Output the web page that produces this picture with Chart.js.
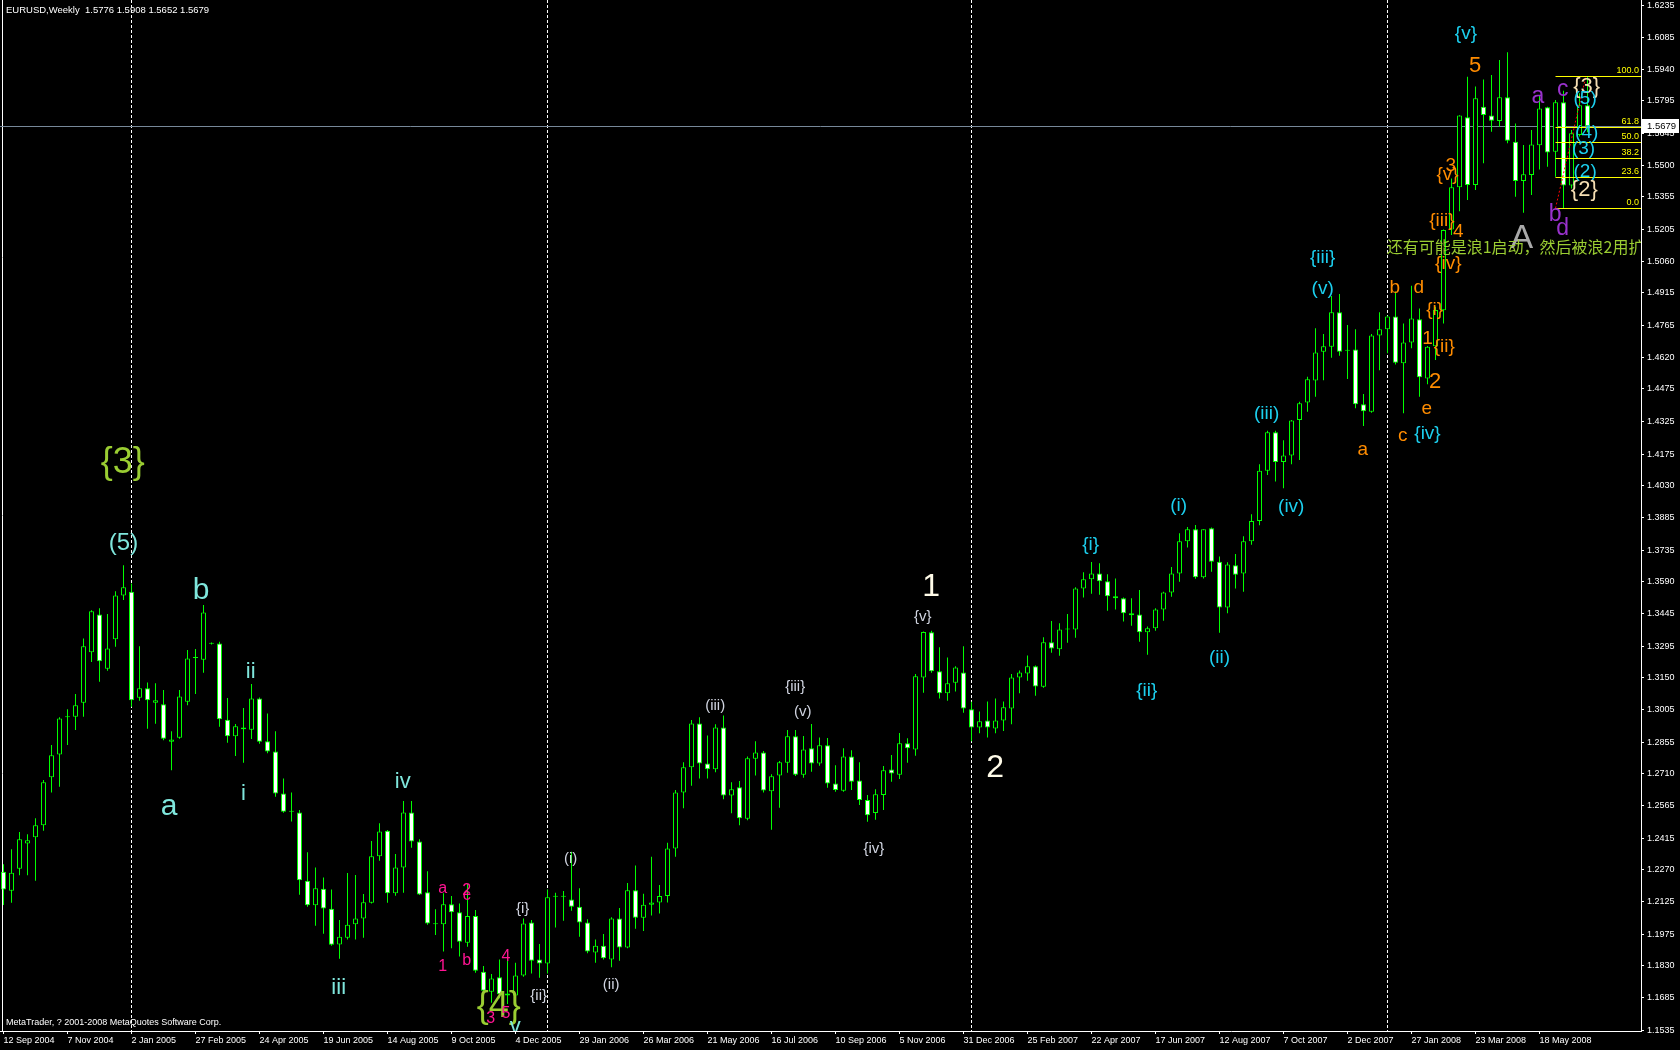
<!DOCTYPE html>
<html>
<head>
<meta charset="utf-8">
<title>EURUSD,Weekly</title>
<script src="https://cdn.jsdelivr.net/npm/chart.js@4.4.1/dist/chart.umd.min.js"></script>
<style>
  html, body { margin: 0; padding: 0; background: #000; }
  #wrap { width: 1680px; height: 1050px; }
</style>
</head>
<body>
<div id="wrap"><canvas id="eurusdChart" width="1680" height="1050"></canvas></div>
<script>
// one label every 8 weeks, starting at week 0
const dateTicks = ['12 Sep 2004', '7 Nov 2004', '2 Jan 2005', '27 Feb 2005', '24 Apr 2005', '19 Jun 2005',
  '14 Aug 2005', '9 Oct 2005', '4 Dec 2005', '29 Jan 2006', '26 Mar 2006', '21 May 2006', '16 Jul 2006',
  '10 Sep 2006', '5 Nov 2006', '31 Dec 2006', '25 Feb 2007', '22 Apr 2007', '17 Jun 2007', '12 Aug 2007',
  '7 Oct 2007', '2 Dec 2007', '27 Jan 2008', '23 Mar 2008', '18 May 2008'];

const opens = [
  1.2261, 1.2174, 1.2275, 1.2391, 1.2419, 1.2474, 1.2694, 1.2799, 1.2970, 1.2972,
  1.3036, 1.3267, 1.3441, 1.3192, 1.3327, 1.3528, 1.3545, 1.3059, 1.3102, 1.3036,
  1.3029, 1.2857, 1.2876, 1.3041, 1.3243, 1.3233, 1.3308, 1.3308, 1.2958, 1.2882,
  1.2923, 1.2912, 1.3056, 1.2859, 1.2813, 1.2620, 1.2536, 1.2533, 1.2220, 1.2107,
  1.2183, 1.2092, 1.1928, 1.1959, 1.2020, 1.2047, 1.2119, 1.2332, 1.2449, 1.2162,
  1.2281, 1.2533, 1.2400, 1.2167, 1.2021, 1.2020, 1.2112, 1.2075, 1.1936, 1.2058,
  1.1803, 1.1711, 1.1777, 1.1703, 1.1694, 1.1785, 1.2029, 1.1859, 1.1841, 1.2147,
  1.2147, 1.2134, 1.2101, 1.2029, 1.1891, 1.1922, 1.1859, 1.2047, 1.1914, 1.2176,
  1.2050, 1.2110, 1.2120, 1.2150, 1.2368, 1.2625, 1.2740, 1.2941, 1.2758, 1.2731,
  1.2923, 1.2611, 1.2648, 1.2504, 1.2779, 1.2808, 1.2630, 1.2703, 1.2761, 1.2882,
  1.2706, 1.2827, 1.2758, 1.2841, 1.2666, 1.2633, 1.2790, 1.2680, 1.2590, 1.2530,
  1.2613, 1.2730, 1.2706, 1.2850, 1.2822, 1.3152, 1.3359, 1.3180, 1.3079, 1.3128,
  1.3175, 1.3006, 1.2923, 1.2955, 1.2918, 1.2955, 1.3010, 1.3152, 1.3170, 1.3203,
  1.3109, 1.3313, 1.3281, 1.3372, 1.3372, 1.3560, 1.3602, 1.3629, 1.3593, 1.3524,
  1.3515, 1.3446, 1.3441, 1.3359, 1.3377, 1.3464, 1.3542, 1.3629, 1.3776, 1.3831,
  1.3611, 1.3836, 1.3683, 1.3473, 1.3666, 1.3629, 1.3776, 1.3869, 1.4100, 1.4276,
  1.4140, 1.4170, 1.4332, 1.4413, 1.4513, 1.4645, 1.4668, 1.4826, 1.4650, 1.4656,
  1.4404, 1.4370, 1.4720, 1.4748, 1.4807, 1.4592, 1.4688, 1.4794, 1.4523, 1.4670,
  1.4835, 1.5206, 1.5399, 1.5720, 1.5410, 1.5769, 1.5729, 1.5703, 1.5812, 1.5608,
  1.5428, 1.5456, 1.5592, 1.5766, 1.5562, 1.5789, 1.5407, 1.5639, 1.5776
];
const highs = [
  1.2296, 1.2364, 1.2443, 1.2433, 1.2507, 1.2682, 1.2842, 1.2969, 1.3006, 1.3076,
  1.3331, 1.3460, 1.3469, 1.3443, 1.3547, 1.3666, 1.3583, 1.3295, 1.3129, 1.3125,
  1.3094, 1.2905, 1.3094, 1.3278, 1.3282, 1.3484, 1.3312, 1.3316, 1.3058, 1.2938,
  1.3012, 1.3122, 1.3060, 1.2987, 1.2905, 1.2689, 1.2625, 1.2544, 1.2350, 1.2281,
  1.2235, 1.2180, 1.2040, 1.2255, 1.2246, 1.2159, 1.2402, 1.2483, 1.2452, 1.2342,
  1.2585, 1.2585, 1.2410, 1.2264, 1.2089, 1.2162, 1.2150, 1.2116, 1.2205, 1.2086,
  1.1829, 1.1792, 1.1859, 1.1902, 1.1844, 1.2047, 1.2040, 1.1930, 1.2180, 1.2165,
  1.2173, 1.2353, 1.2185, 1.2043, 1.1951, 1.1976, 1.2052, 1.2095, 1.2209, 1.2290,
  1.2160, 1.2330, 1.2200, 1.2394, 1.2636, 1.2763, 1.2957, 1.2969, 1.2886, 1.2937,
  1.2978, 1.2672, 1.2677, 1.2790, 1.2860, 1.2815, 1.2708, 1.2769, 1.2911, 1.2911,
  1.2883, 1.2938, 1.2877, 1.2874, 1.2750, 1.2827, 1.2818, 1.2763, 1.2613, 1.2639,
  1.2746, 1.2796, 1.2897, 1.2873, 1.3168, 1.3363, 1.3366, 1.3290, 1.3244, 1.3203,
  1.3295, 1.3041, 1.2996, 1.3042, 1.3056, 1.3042, 1.3168, 1.3184, 1.3253, 1.3207,
  1.3336, 1.3411, 1.3401, 1.3443, 1.3565, 1.3634, 1.3681, 1.3675, 1.3625, 1.3606,
  1.3519, 1.3515, 1.3553, 1.3386, 1.3469, 1.3545, 1.3658, 1.3813, 1.3842, 1.3851,
  1.3831, 1.3840, 1.3706, 1.3680, 1.3718, 1.3799, 1.3900, 1.4130, 1.4283, 1.4283,
  1.4240, 1.4332, 1.4416, 1.4531, 1.4753, 1.4727, 1.4901, 1.4910, 1.4768, 1.4748,
  1.4451, 1.4727, 1.4826, 1.4810, 1.4921, 1.4775, 1.4948, 1.4844, 1.4672, 1.4852,
  1.5206, 1.5440, 1.5730, 1.5906, 1.5861, 1.5894, 1.5914, 1.5983, 1.6018, 1.5692,
  1.5593, 1.5662, 1.5822, 1.5769, 1.5799, 1.5842, 1.5662, 1.5830, 1.5908
];
const lows = [
  1.2109, 1.2119, 1.2245, 1.2245, 1.2220, 1.2449, 1.2624, 1.2651, 1.2842, 1.2911,
  1.2972, 1.3223, 1.3132, 1.3183, 1.3293, 1.3507, 1.3018, 1.3045, 1.2917, 1.2940,
  1.2864, 1.2727, 1.2871, 1.3025, 1.3076, 1.3174, 1.3303, 1.2926, 1.2853, 1.2792,
  1.2761, 1.2870, 1.2848, 1.2805, 1.2605, 1.2532, 1.2491, 1.2156, 1.2101, 1.2014,
  1.1977, 1.1922, 1.1862, 1.1950, 1.1950, 1.1959, 1.2115, 1.2312, 1.2119, 1.2151,
  1.2165, 1.2371, 1.2155, 1.2018, 1.1971, 1.1895, 1.1910, 1.1872, 1.1917, 1.1798,
  1.1711, 1.1661, 1.1681, 1.1655, 1.1650, 1.1780, 1.1795, 1.1775, 1.1795, 1.2005,
  1.2037, 1.2082, 1.1963, 1.1887, 1.1844, 1.1859, 1.1823, 1.1853, 1.1910, 1.2000,
  1.1990, 1.2060, 1.2070, 1.2120, 1.2330, 1.2552, 1.2656, 1.2689, 1.2689, 1.2717,
  1.2593, 1.2529, 1.2474, 1.2497, 1.2702, 1.2625, 1.2454, 1.2555, 1.2715, 1.2700,
  1.2692, 1.2720, 1.2747, 1.2646, 1.2628, 1.2628, 1.2636, 1.2567, 1.2490, 1.2500,
  1.2544, 1.2674, 1.2686, 1.2761, 1.2793, 1.3082, 1.3174, 1.3055, 1.3045, 1.3087,
  1.2990, 1.2860, 1.2896, 1.2877, 1.2896, 1.2906, 1.2937, 1.3079, 1.3137, 1.3068,
  1.3105, 1.3265, 1.3252, 1.3311, 1.3334, 1.3518, 1.3536, 1.3531, 1.3458, 1.3463,
  1.3408, 1.3389, 1.3316, 1.3256, 1.3366, 1.3412, 1.3522, 1.3591, 1.3748, 1.3605,
  1.3606, 1.3637, 1.3357, 1.3446, 1.3560, 1.3545, 1.3760, 1.3850, 1.4080, 1.4050,
  1.4020, 1.4130, 1.4149, 1.4370, 1.4439, 1.4515, 1.4618, 1.4627, 1.4520, 1.4386,
  1.4305, 1.4366, 1.4561, 1.4638, 1.4587, 1.4363, 1.4661, 1.4439, 1.4496, 1.4607,
  1.4775, 1.5180, 1.5290, 1.5341, 1.5387, 1.5509, 1.5654, 1.5677, 1.5601, 1.5356,
  1.5283, 1.5364, 1.5481, 1.5494, 1.5448, 1.5303, 1.5394, 1.5632, 1.5652
];
const closes = [
  1.2180, 1.2257, 1.2410, 1.2405, 1.2474, 1.2672, 1.2795, 1.2964, 1.2974, 1.3024,
  1.3295, 1.3455, 1.3226, 1.3285, 1.3528, 1.3565, 1.3048, 1.3102, 1.3048, 1.3048,
  1.2871, 1.2868, 1.3065, 1.3239, 1.3241, 1.3450, 1.3306, 1.2960, 1.2882, 1.2928,
  1.2914, 1.3056, 1.2857, 1.2812, 1.2620, 1.2536, 1.2538, 1.2222, 1.2107, 1.2185,
  1.2093, 1.1927, 1.1963, 1.2018, 1.2047, 1.2121, 1.2332, 1.2446, 1.2162, 1.2281,
  1.2533, 1.2400, 1.2157, 1.2024, 1.2023, 1.2112, 1.2075, 1.1940, 1.2058, 1.1807,
  1.1716, 1.1772, 1.1699, 1.1694, 1.1786, 1.2024, 1.1853, 1.1841, 1.2144, 1.2149,
  1.2150, 1.2101, 1.2029, 1.1895, 1.1922, 1.1864, 1.2047, 1.1914, 1.2176, 1.2050,
  1.2110, 1.2120, 1.2150, 1.2368, 1.2625, 1.2740, 1.2941, 1.2758, 1.2731, 1.2922,
  1.2611, 1.2639, 1.2506, 1.2781, 1.2808, 1.2634, 1.2699, 1.2763, 1.2882, 1.2706,
  1.2822, 1.2758, 1.2841, 1.2666, 1.2636, 1.2790, 1.2674, 1.2590, 1.2520, 1.2616,
  1.2726, 1.2712, 1.2850, 1.2827, 1.3157, 1.3360, 1.3180, 1.3079, 1.3125, 1.3198,
  1.3010, 1.2923, 1.2951, 1.2923, 1.2955, 1.3015, 1.3152, 1.3175, 1.3203, 1.3111,
  1.3313, 1.3285, 1.3372, 1.3374, 1.3560, 1.3602, 1.3629, 1.3593, 1.3524, 1.3515,
  1.3446, 1.3437, 1.3359, 1.3377, 1.3464, 1.3542, 1.3629, 1.3776, 1.3831, 1.3611,
  1.3831, 1.3683, 1.3473, 1.3670, 1.3623, 1.3776, 1.3869, 1.4100, 1.4276, 1.4140,
  1.4170, 1.4330, 1.4409, 1.4519, 1.4642, 1.4670, 1.4826, 1.4645, 1.4652, 1.4404,
  1.4373, 1.4720, 1.4748, 1.4807, 1.4595, 1.4688, 1.4798, 1.4528, 1.4668, 1.4837,
  1.5203, 1.5399, 1.5728, 1.5410, 1.5807, 1.5731, 1.5704, 1.5812, 1.5613, 1.5428,
  1.5459, 1.5596, 1.5761, 1.5559, 1.5789, 1.5407, 1.5647, 1.5776, 1.5679
];

const priceTicks = [1.6235, 1.6085, 1.5940, 1.5795, 1.5645, 1.5500, 1.5355, 1.5205, 1.5060, 1.4915,
  1.4765, 1.4620, 1.4475, 1.4325, 1.4175, 1.4030, 1.3885, 1.3735, 1.3590, 1.3445, 1.3295, 1.3150,
  1.3005, 1.2855, 1.2710, 1.2565, 1.2415, 1.2270, 1.2125, 1.1975, 1.1830, 1.1685, 1.1535];

// first week of each new year (period separators)
const yearStarts = [16, 68, 121, 173];
const fibLevels = [100, 61.8, 50, 38.2, 23.6, 0];

// wave count: text, week, price, style
const waveLabels = [
  ['{3}', 14.9, 1.4135, 'olive'], ['(5)', 15, 1.3768, 'aquaMid'],
  ['b', 24.7, 1.3548, 'aquaBig'], ['a', 20.7, 1.2558, 'aquaBig'],
  ['ii', 30.9, 1.3177, 'aqua'], ['i', 30, 1.2617, 'aqua'], ['iv', 49.9, 1.2672, 'aqua'], ['iii', 41.9, 1.1728, 'aqua'],
  ['a', 54.9, 1.2182, 'pink'], ['c', 57.9, 1.2150, 'pink'], ['2', 57.9, 1.2177, 'pink'], ['1', 54.9, 1.1826, 'pink'],
  ['b', 57.9, 1.1852, 'pink'], ['4', 62.8, 1.1871, 'pink'],
  ['{4}', 61.9, 1.1642, 'olive'], ['3', 60.9, 1.1586, 'pink'], ['5', 62.8, 1.1613, 'pink'], ['v', 63.97, 1.1551, 'aqua'],
  ['{i}', 64.9, 1.2089, 'pale'], ['{ii}', 66.9, 1.1691, 'pale'], ['(i)', 70.9, 1.2322, 'pale'], ['(ii)', 75.96, 1.1742, 'pale'],
  ['(iii)', 88.96, 1.3021, 'pale'], ['{iii}', 98.96, 1.3107, 'pale'], ['(v)', 99.9, 1.2995, 'pale'],
  ['{iv}', 108.8, 1.2367, 'pale'], ['{v}', 114.9, 1.3428, 'pale'],
  ['1', 115.95, 1.3568, 'cream'], ['2', 123.96, 1.2735, 'cream'],
  ['{i}', 135.9, 1.3759, 'cyan'], ['{ii}', 142.9, 1.3091, 'cyan'], ['(i)', 146.9, 1.3938, 'cyan'], ['(ii)', 152, 1.3240, 'cyan'],
  ['(iii)', 157.9, 1.4363, 'cyan'], ['(iv)', 160.97, 1.3934, 'cyan'], ['{iii}', 164.9, 1.5078, 'cyan'], ['(v)', 164.9, 1.4936, 'cyan'],
  ['a', 169.9, 1.4195, 'orange'], ['b', 173.9, 1.4939, 'orange'], ['c', 174.9, 1.4260, 'orange'], ['d', 176.9, 1.4939, 'orange'],
  ['e', 177.9, 1.4386, 'orange'], ['{iv}', 178, 1.4267, 'cyan'], ['1', 178, 1.4707, 'orange'], ['2', 178.96, 1.4508, 'orangeBig'],
  ['{i}', 178.9, 1.4840, 'orange'], ['{ii}', 180.1, 1.4668, 'orange'], ['{iii}', 179.8, 1.5245, 'orange'], ['4', 181.85, 1.5196, 'orange'],
  ['{iv}', 180.6, 1.5050, 'orange'], ['{v}', 180.5, 1.5456, 'orange'], ['3', 180.9, 1.5498, 'orange'],
  ['5', 183.96, 1.5957, 'orangeBig'], ['{v}', 182.8, 1.6105, 'cyan'],
  ['A', 189.8, 1.5165, 'gray'],
  ['a', 191.8, 1.5815, 'purple'], ['c', 194.9, 1.5845, 'purple'], ['b', 193.96, 1.5272, 'purple'], ['d', 194.9, 1.5211, 'purple'],
  ['{3}', 197.9, 1.5860, 'wheat'], ['(5)', 197.7, 1.5805, 'cyan'], ['(4)', 197.9, 1.5647, 'cyan'], ['(3)', 197.5, 1.5575, 'cyan'],
  ['(2)', 197.7, 1.5471, 'cyan'], ['{2}', 197.6, 1.5387, 'wheat']
];
const note = { text: '还有可能是浪1启动，然后被浪2用扩', week: 172.9, price: 1.5124 };

const FONT = '"Liberation Sans", Arial, sans-serif';
const labelStyles = {
  olive: { color: '#9acd32', size: 36 },
  aqua: { color: '#7fe6dc', size: 22 },
  aquaMid: { color: '#7fe6dc', size: 24 },
  aquaBig: { color: '#7fe6dc', size: 30 },
  pink: { color: '#ff1493', size: 16 },
  pale: { color: '#d0d4e0', size: 15 },
  cream: { color: '#fffbe8', size: 32 },
  cyan: { color: '#1ccfee', size: 19 },
  orange: { color: '#ff8c00', size: 19 },
  orangeBig: { color: '#ff8c00', size: 22 },
  gray: { color: '#a9a9a9', size: 34 },
  purple: { color: '#9932cc', size: 23 },
  wheat: { color: '#f5deb3', size: 22 }
};

const last = opens.length - 1;
const fibLow = lows[195], fibHigh = highs[last];
const weekPx = 8, axisW = 39, axisH = 19;
const xMin = -3.5 / weekPx;
const xMax = xMin + (1680 - axisW) / weekPx;

const mt4Plugin = {
  id: 'mt4',
  beforeDraw(chart) {
    const ctx = chart.ctx;
    ctx.save();
    ctx.fillStyle = '#000';
    ctx.fillRect(0, 0, chart.width, chart.height);
    ctx.restore();
  },
  beforeDatasetsDraw(chart) {
    const { ctx, chartArea: a, scales: { x, y } } = chart;
    ctx.save();
    ctx.lineWidth = 1;
    ctx.strokeStyle = '#ffffff';
    const x0 = Math.floor(x.getPixelForValue(0)) - 1 + 0.5;
    ctx.beginPath(); ctx.moveTo(x0, a.top); ctx.lineTo(x0, a.bottom); ctx.stroke();
    ctx.setLineDash([3, 2]);
    yearStarts.forEach(w => {
      const px = Math.floor(x.getPixelForValue(w)) + 0.5;
      ctx.beginPath(); ctx.moveTo(px, a.top); ctx.lineTo(px, a.bottom); ctx.stroke();
    });
    ctx.setLineDash([]);
    ctx.strokeStyle = '#778899';
    const by = Math.round(y.getPixelForValue(closes[last])) + 0.5;
    ctx.beginPath(); ctx.moveTo(a.left, by); ctx.lineTo(a.right, by); ctx.stroke();
    ctx.restore();
  },
  afterDatasetsDraw(chart) {
    const { ctx, chartArea: a, scales: { x, y } } = chart;
    ctx.save();
    ctx.beginPath();
    ctx.rect(a.left, a.top, a.right - a.left, a.bottom - a.top);
    ctx.clip();

    // fibonacci retracement
    const fx = x.getPixelForValue(194);
    ctx.strokeStyle = '#ffff00';
    ctx.fillStyle = '#ffff00';
    ctx.lineWidth = 1;
    ctx.font = '9px ' + FONT;
    ctx.textAlign = 'right';
    ctx.textBaseline = 'bottom';
    fibLevels.forEach(lv => {
      const py = Math.round(y.getPixelForValue(fibLow + (fibHigh - fibLow) * lv / 100)) + 0.5;
      ctx.beginPath(); ctx.moveTo(fx, py); ctx.lineTo(a.right, py); ctx.stroke();
      ctx.fillText(lv.toFixed(1), a.right - 2, py - 1);
    });
    ctx.strokeStyle = '#ff0000';
    ctx.setLineDash([2, 2]);
    ctx.beginPath();
    ctx.moveTo(x.getPixelForValue(194), y.getPixelForValue(fibLow));
    ctx.lineTo(x.getPixelForValue(197.8), y.getPixelForValue(fibHigh));
    ctx.stroke();
    ctx.setLineDash([]);

    // wave labels
    ctx.textAlign = 'center';
    ctx.textBaseline = 'middle';
    waveLabels.forEach(([t, w, p, s]) => {
      const st = labelStyles[s];
      ctx.font = st.size + 'px ' + FONT;
      ctx.fillStyle = st.color;
      ctx.fillText(t, x.getPixelForValue(w), y.getPixelForValue(p));
    });

    ctx.font = '16px "Noto Sans CJK SC", sans-serif';
    ctx.fillStyle = '#9acd32';
    ctx.textAlign = 'left';
    ctx.fillText(note.text, x.getPixelForValue(note.week), y.getPixelForValue(note.price));
    ctx.restore();
  },
  afterDraw(chart) {
    const { ctx, chartArea: a, scales: { y } } = chart;
    ctx.save();
    ctx.fillStyle = '#ffffff';
    ctx.font = '9.5px ' + FONT;
    ctx.textAlign = 'left';
    ctx.textBaseline = 'middle';
    const head = 'EURUSD,Weekly  ' + [opens[last], highs[last], lows[last], closes[last]].map(v => v.toFixed(4)).join(' ');
    ctx.fillText(head, 6, 10);
    ctx.font = '9px ' + FONT;
    ctx.fillText('MetaTrader, ? 2001-2008 MetaQuotes Software Corp.', 6, a.bottom - 8);

    // current price tag on the price axis
    ctx.font = '9.5px ' + FONT;
    ctx.fillStyle = '#ffffff';
    const py = Math.round(y.getPixelForValue(closes[last]));
    ctx.fillRect(a.right + 1, py - 7, chart.width - a.right - 2, 14);
    ctx.fillStyle = '#000000';
    ctx.fillText(closes[last].toFixed(4), a.right + 6, py);
    ctx.restore();
  }
};

new Chart(document.getElementById('eurusdChart'), {
  type: 'bar',
  data: {
    datasets: [
      {
        label: 'range',
        data: opens.map((o, i) => ({ x: i, y: [lows[i], highs[i]] })),
        backgroundColor: '#00ff00',
        borderWidth: 0,
        barThickness: 1,
        inflateAmount: 0,
        grouped: false,
        order: 2
      },
      {
        label: 'body',
        data: opens.map((o, i) => ({ x: i, y: [o, closes[i]] })),
        backgroundColor: opens.map((o, i) => closes[i] < o ? '#ffffff' : '#000000'),
        borderColor: '#00ff00',
        borderWidth: 1,
        borderSkipped: false,
        barThickness: 5,
        minBarLength: 1,
        inflateAmount: 0,
        grouped: false,
        order: 1
      }
    ]
  },
  options: {
    responsive: false,
    animation: false,
    events: [],
    layout: { padding: 0 },
    plugins: { legend: { display: false }, tooltip: { enabled: false } },
    scales: {
      x: {
        type: 'linear',
        min: xMin,
        max: xMax,
        offset: false,
        afterBuildTicks: s => { s.ticks = dateTicks.map((d, k) => ({ value: k * 8 })); },
        afterFit: s => { s.height = axisH; s.paddingLeft = 0; s.paddingRight = 0; },
        ticks: {
          color: '#ffffff', font: { size: 9, family: FONT }, align: 'start',
          maxRotation: 0, autoSkip: false, padding: 1,
          callback: v => dateTicks[Math.round(v / 8)]
        },
        grid: { drawOnChartArea: false, color: '#ffffff', tickLength: 3, offset: false },
        border: { color: '#ffffff' }
      },
      y: {
        position: 'right',
        min: 1.1531,
        max: 1.6258,
        afterBuildTicks: s => { s.ticks = priceTicks.map(v => ({ value: v })); },
        afterFit: s => { s.width = axisW; s.paddingTop = 0; s.paddingBottom = 0; },
        ticks: {
          color: '#ffffff', font: { size: 9, family: FONT }, padding: 3, autoSkip: false,
          callback: v => v.toFixed(4)
        },
        grid: { drawOnChartArea: false, color: '#ffffff', tickLength: 3 },
        border: { color: '#ffffff' }
      }
    }
  },
  plugins: [mt4Plugin]
});
</script>
</body>
</html>
